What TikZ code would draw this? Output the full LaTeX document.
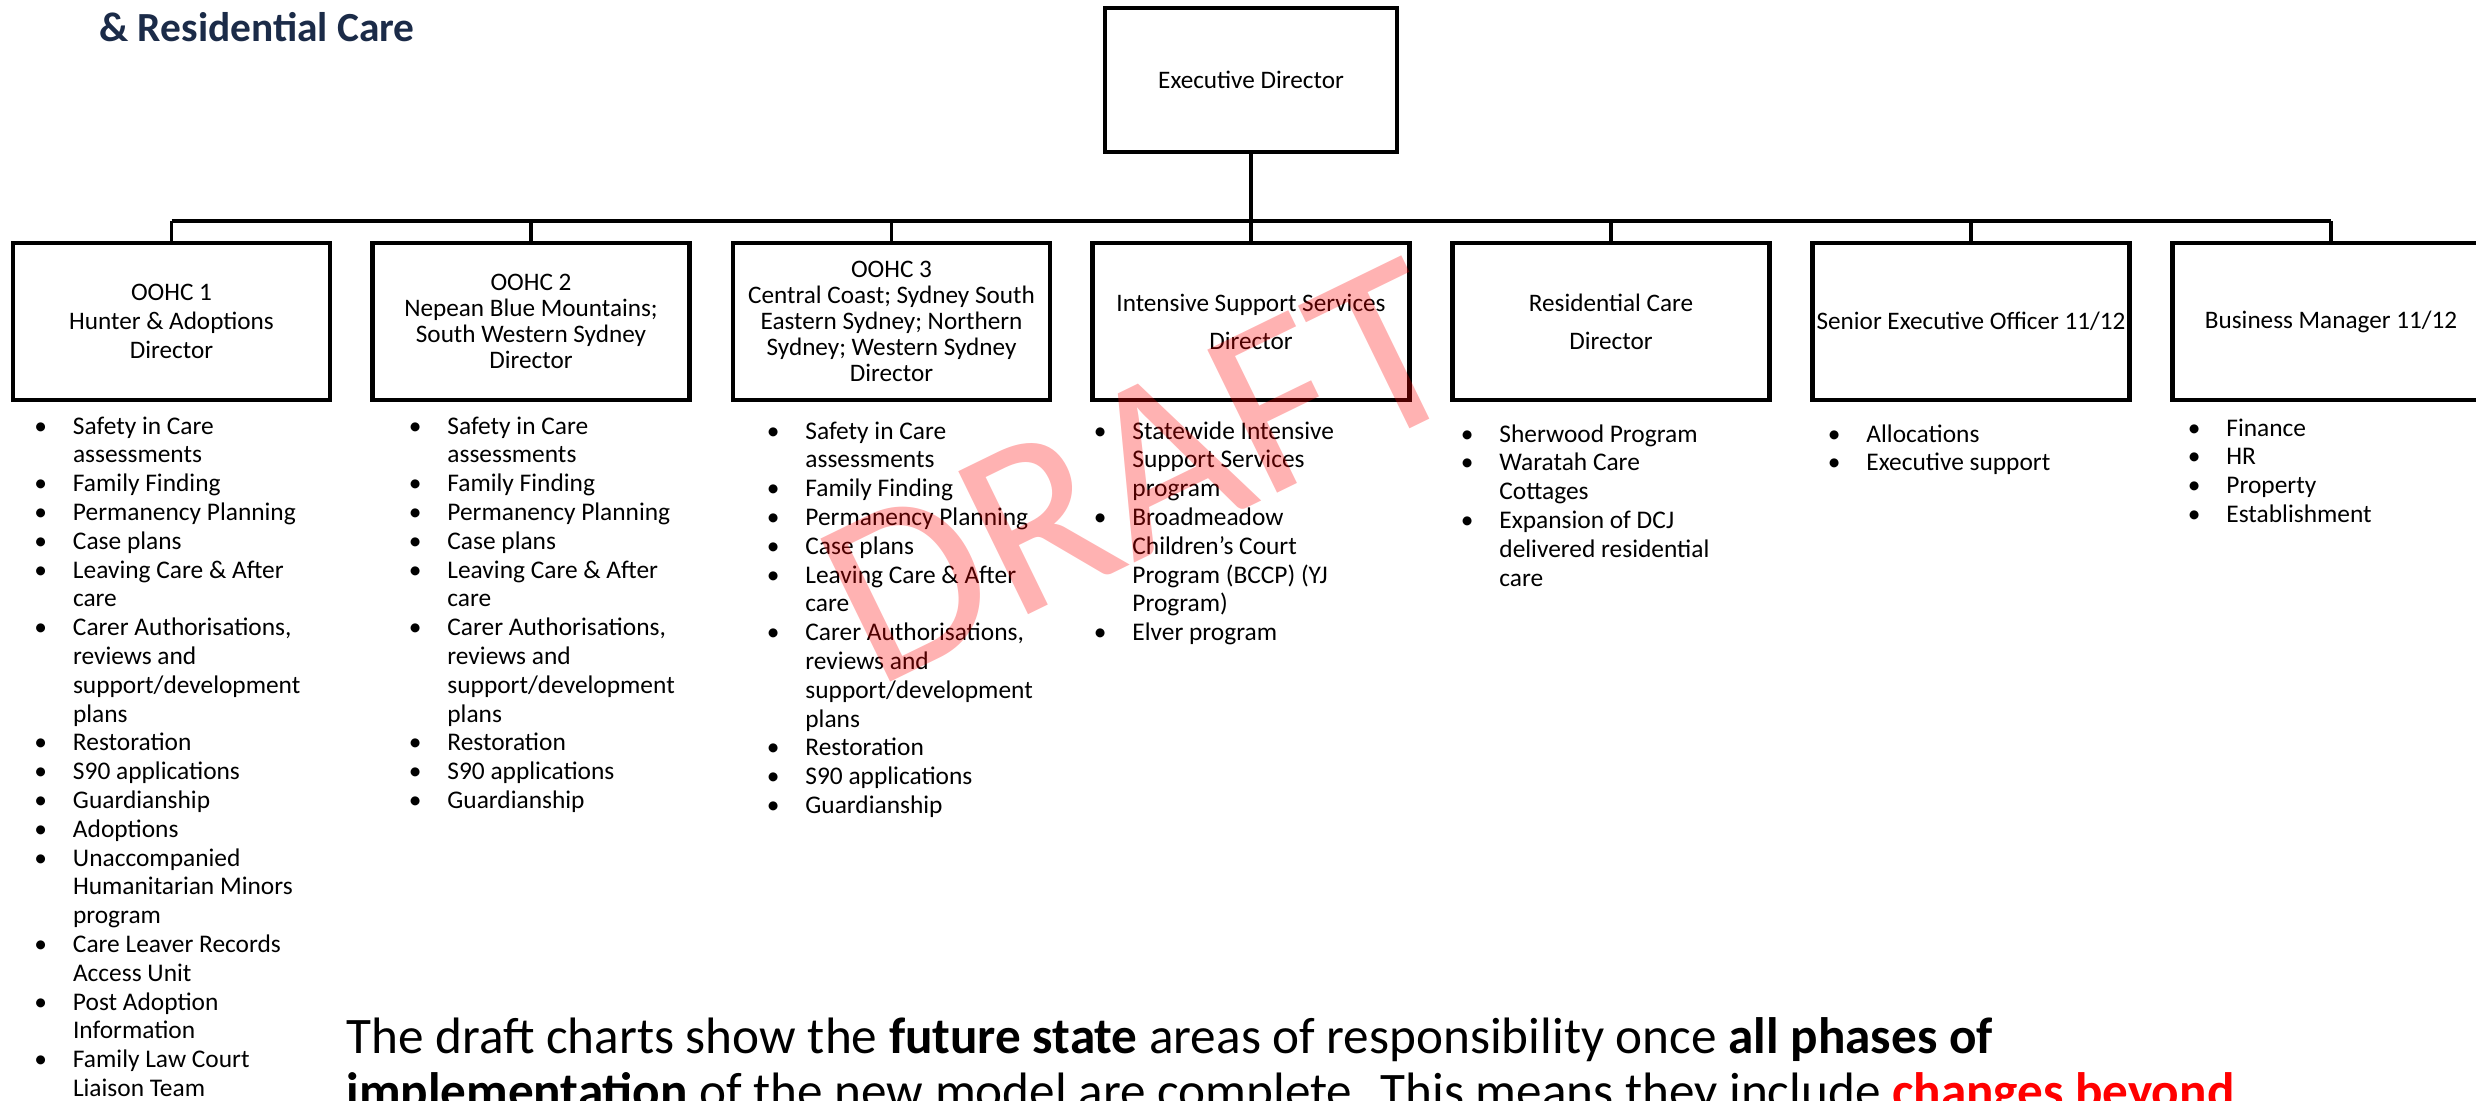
\documentclass[tikz,border=0pt]{standalone}
\usepackage{fontspec}
\setmainfont{Carlito}
\definecolor{navy}{HTML}{1B2B48}
\tikzset{
 orgbox/.style={draw, line width=2.15pt, minimum width=158.5pt, minimum height=78.5pt, inner sep=0pt, align=center, font=\fontsize{12.6}{13}\selectfont},
 conn/.style={line width=1.8pt},
 listnode/.style={anchor=base west, inner sep=0pt, font=\fontsize{12.7}{14.4}\selectfont},
}
\newcommand{\bi}{\leavevmode\llap{\textbullet\hspace{13pt}}}
\newcommand{\lst}[1]{\begin{minipage}[t]{170pt}\raggedright #1\end{minipage}}
\begin{document}
\begin{tikzpicture}[x=0.5pt,y=-0.5pt]
\clip (0,0) rectangle (2476,1101);
\fill[white] (0,0) rectangle (2476,1101);
% title
\node[anchor=base west, inner sep=0pt, text=navy, font=\fontsize{20.7}{24}\selectfont\bfseries] (title) at (99,42) {\& Residential Care};
% boxes
\node[orgbox, minimum width=146pt, minimum height=72pt] (ed) at (1251,80) {Executive Director};
\node[orgbox] (b1) at (171.5,321.5) {OOHC 1\\[1.5pt]Hunter \& Adoptions\\[1.5pt]Director};
\node[orgbox] (b2) at (531,321.5) {OOHC 2\\Nepean Blue Mountains;\\South Western Sydney\\Director};
\node[orgbox] (b3) at (891.5,321.5) {OOHC 3\\Central Coast; Sydney South\\Eastern Sydney; Northern\\Sydney; Western Sydney\\Director};
\node[orgbox] (b4) at (1251,321.5) {Intensive Support Services\\[6pt]Director};
\node[orgbox] (b5) at (1611,321.5) {Residential Care\\[6pt]Director};
\node[orgbox] (b6) at (1971,321.5) {Senior Executive Officer 11/12};
\node[orgbox] (b7) at (2331,321.5) {Business Manager 11/12};
% connectors
\coordinate (bar) at (0,221);
\draw[conn] (ed.south) -- (ed.south |- bar);
\draw[conn] (b1.north |- bar) -- (b7.north |- bar);
\foreach \b in {b1,b2,b3,b4,b5,b6,b7} \draw[conn] (\b.north) -- (\b.north |- bar);
% lists
\node[listnode] (l1) at (72.6,434) {\lst{\bi Safety in Care\\assessments\\\bi Family Finding\\\bi Permanency Planning\\\bi Case plans\\\bi Leaving Care \& After\\care\\\bi Carer Authorisations,\\reviews and\\support/development\\plans\\\bi Restoration\\\bi S90 applications\\\bi Guardianship\\\bi Adoptions\\\bi Unaccompanied\\Humanitarian Minors\\program\\\bi Care Leaver Records\\Access Unit\\\bi Post Adoption\\Information\\\bi Family Law Court\\Liaison Team}};
\node[listnode] (l2) at (447,434) {\lst{\bi Safety in Care\\assessments\\\bi Family Finding\\\bi Permanency Planning\\\bi Case plans\\\bi Leaving Care \& After\\care\\\bi Carer Authorisations,\\reviews and\\support/development\\plans\\\bi Restoration\\\bi S90 applications\\\bi Guardianship}};
\node[listnode] (l3) at (805,439) {\lst{\bi Safety in Care\\assessments\\\bi Family Finding\\\bi Permanency Planning\\\bi Case plans\\\bi Leaving Care \& After\\care\\\bi Carer Authorisations,\\reviews and\\support/development\\plans\\\bi Restoration\\\bi S90 applications\\\bi Guardianship}};
\node[listnode] (l4) at (1132,439) {\lst{\bi Statewide Intensive\\Support Services\\program\\\bi Broadmeadow\\Children’s Court\\Program (BCCP) (YJ\\Program)\\\bi Elver program}};
\node[listnode] (l5) at (1499,442) {\lst{\bi Sherwood Program\\\bi Waratah Care\\Cottages\\\bi Expansion of DCJ\\delivered residential\\care}};
\node[listnode] (l6) at (1866,442) {\lst{\bi Allocations\\\bi Executive support}};
\node[listnode] (l7) at (2226,436) {\lst{\bi Finance\\\bi HR\\\bi Property\\\bi Establishment}};
% bottom note
\node[anchor=base west, inner sep=0pt, font=\fontsize{25.6}{27.5}\selectfont] (note) at (346,1053) {\begin{minipage}[t]{1000pt}The draft charts show the \textbf{future state} areas of responsibility once \textbf{all phases of}\\\textbf{implementation} of the new model are complete. This means they include \textcolor{red}{\textbf{changes beyond}}\end{minipage}};
% watermark
\node[rotate=26, text=red, text opacity=0.3, inner sep=0pt, font=\fontsize{124}{124}\selectfont] (wm) at (1140,472) {DRAFT};
\end{tikzpicture}
\end{document}
